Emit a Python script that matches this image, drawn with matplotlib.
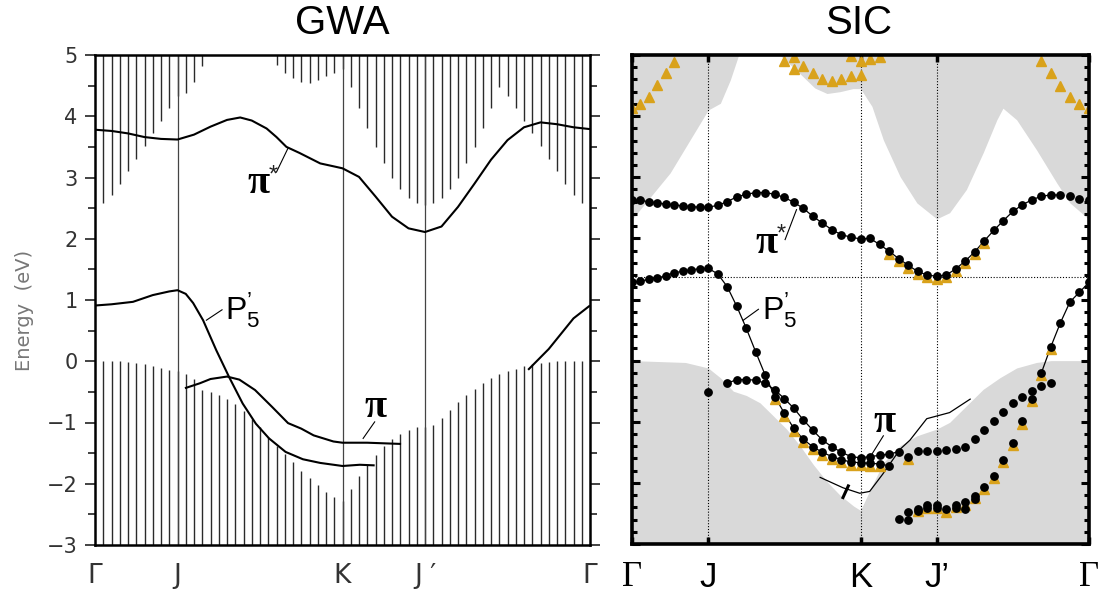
import matplotlib
matplotlib.use("Agg")
import matplotlib.pyplot as plt
import numpy as np
from matplotlib.ticker import MultipleLocator

W, H, DPI = 1102, 603, 100

plt.rcParams["mathtext.fontset"] = "custom"
plt.rcParams["mathtext.rm"] = "Liberation Sans"
plt.rcParams["mathtext.it"] = "Liberation Sans:italic"

# k path: Gamma(0) - J(10) - K(30) - J'(40) - Gamma(60)
SYM_K = [0, 10, 30, 40, 60]
GWA_LABELS = ["Γ", "J", "K", "J ′", "Γ"]
SIC_LABELS = ["Γ", "J", "K", "J’", "Γ"]

# ---------------- GWA panel ----------------
gwa_k = np.arange(61)
# lower edge of the conduction continuum (hatched from the top)
gwa_cond = [2.50, 2.59, 2.71, 2.89, 3.10, 3.31, 3.51, 3.72, 3.92, 4.13,
            4.33, 4.38, 4.56, 4.82, 5.00, 5.00, 5.00, 5.00, 5.00, 5.00,
            5.00, 5.00, 4.84, 4.71, 4.62, 4.56, 4.55, 4.59, 4.65, 4.71,
            4.77, 4.47, 4.14, 3.81, 3.50, 3.23, 3.00, 2.81, 2.66, 2.58,
            2.55, 2.58, 2.66, 2.81, 3.00, 3.23, 3.50, 3.81, 4.14, 4.47,
            4.33, 4.13, 3.92, 3.72, 3.51, 3.31, 3.10, 2.89, 2.71, 2.59,
            2.50]
# upper edge of the valence continuum (hatched from the bottom)
gwa_val = [0.00, 0.00, 0.00, 0.00, -0.02, -0.03, -0.05, -0.08, -0.11, -0.14,
           -0.16, -0.20, -0.29, -0.47, -0.51, -0.55, -0.61, -0.70, -0.81, -0.95,
           -1.08, -1.23, -1.38, -1.52, -1.65, -1.79, -1.91, -2.02, -2.13, -2.21,
           -2.28, -2.09, -1.87, -1.70, -1.53, -1.38, -1.27, -1.19, -1.13, -1.08,
           -1.07, -1.04, -0.93, -0.79, -0.67, -0.55, -0.46, -0.35, -0.28, -0.20,
           -0.16, -0.12, -0.08, -0.04, -0.03, -0.01, 0.00, 0.00, 0.00, 0.00,
           0.00]

gwa_pistar_k = [0, 2, 4, 6, 8, 10, 12, 14, 16, 17.6, 19, 20.8, 22, 23.2, 24.8,
                27.3, 29, 30, 32, 34, 36, 38, 40, 42, 44, 46, 48, 50, 52, 54,
                56, 58, 60]
gwa_pistar_e = [3.78, 3.76, 3.72, 3.66, 3.63, 3.62, 3.70, 3.83, 3.94, 3.98, 3.93,
                3.80, 3.66, 3.50, 3.40, 3.23, 3.18, 3.15, 3.01, 2.69, 2.36, 2.17,
                2.11, 2.20, 2.52, 2.90, 3.29, 3.61, 3.82, 3.90, 3.87, 3.82, 3.79]

gwa_p5_k = [0, 2, 4.6, 7, 9, 10, 11, 11.9, 13.1, 14.7, 16.3, 17.9, 19.5, 21.1,
            23.1, 25.2, 27.3, 30, 32.1, 33.9]
gwa_p5_e = [0.91, 0.93, 0.97, 1.08, 1.14, 1.16, 1.10, 0.95, 0.67, 0.18, -0.27,
            -0.69, -1.02, -1.26, -1.48, -1.60, -1.66, -1.71, -1.69, -1.70]
gwa_p5b_k = [52.5, 55, 58, 60]
gwa_p5b_e = [-0.14, 0.20, 0.70, 0.91]

gwa_pi_k = [10.9, 12.7, 14, 16, 17.5, 19.4, 21.5, 23.4, 25, 26.5, 28.9, 30, 33, 37.1]
gwa_pi_e = [-0.44, -0.36, -0.29, -0.25, -0.30, -0.47, -0.75, -1.01, -1.10, -1.21,
            -1.31, -1.33, -1.33, -1.35]

# ---------------- SIC panel ----------------
k_gj = np.linspace(0, 10, 10)
k_jk = np.linspace(10, 30, 17)
k_kg = np.linspace(30, 60, 25)

sic_pistar = ([2.63, 2.62, 2.60, 2.58, 2.56, 2.55, 2.53, 2.52, 2.51, 2.51]
              + [2.54, 2.60, 2.68, 2.72, 2.75, 2.75, 2.72, 2.67, 2.59, 2.49,
                 2.36, 2.25, 2.14, 2.06, 2.02, 1.99]
              + [2.00, 1.90, 1.79, 1.67, 1.56, 1.46, 1.40, 1.38, 1.40, 1.50,
                 1.63, 1.78, 1.96, 2.13, 2.29, 2.44, 2.55, 2.63, 2.69, 2.71,
                 2.71, 2.69, 2.65, 2.63])
sic_pistar_k = np.concatenate([k_gj, k_jk[1:], k_kg[1:]])

sic_p5 = ([1.28, 1.30, 1.33, 1.35, 1.39, 1.44, 1.46, 1.49, 1.50, 1.51]
          + [1.42, 1.21, 0.89, 0.53, 0.14, -0.24, -0.59, -0.86, -1.11, -1.29,
             -1.41, -1.50, -1.57, -1.62, -1.66, -1.67]
          + [-1.68, -1.69, -1.72])
sic_p5_k = np.concatenate([k_gj, k_jk[1:], k_kg[1:4]])

sic_pi_j = -0.51
sic_pi = ([-0.37, -0.31, -0.31, -0.32, -0.37, -0.48, -0.62, -0.78, -0.97, -1.14,
           -1.30, -1.41, -1.50, -1.57, -1.59]
          + [-1.57, -1.55, -1.53, -1.49, -1.57, -1.48, -1.48, -1.48, -1.47, -1.45,
             -1.41, -1.29, -1.14, -0.99, -0.84, -0.70, -0.59, -0.49, -0.42, -0.37])
sic_pi_k = np.concatenate([k_jk[2:], k_kg[1:21]])

sic_deep_a = [-2.59, -2.47, -2.42, -2.37, -2.37, -2.43, -2.36, -2.32, -2.21, -2.06,
              -1.88, -1.62, -1.34, -0.99, -0.62, -0.20, 0.23, 0.62, 0.96, 1.12, 1.28]
sic_deep_a_k = k_kg[4:25]
sic_deep_b = [-2.60, -2.46, -2.41, -2.41, np.nan, -2.41, -2.43, -2.27]
sic_deep_b_k = k_kg[5:13]

tri_top_left = [4.13, 4.20, 4.32, 4.51, 4.70, 4.89]
tri_top_left_k = k_gj[0:6]
tri_top_mid = [4.91, 4.77, 4.82, 4.70, 4.61, 4.58, 4.60, 4.66, 4.67]
tri_top_mid_k = k_jk[8:17]
tri_top_hi = [4.96, 4.99, 4.91, 4.93, 4.97]
tri_top_hi_k = [k_jk[9], k_jk[15], k_jk[16], k_kg[1], k_kg[2]]
tri_top_right = [4.91, 4.71, 4.50, 4.32, 4.20, 4.13]
tri_top_right_k = k_kg[19:25]

# continuum edges (SIC), grey shading
sic_cb_k = [0, 5, 10, 11.6, 12.9, 14, 14.5, 19, 19.4, 22, 24, 25.6, 27.3, 29, 30,
            31.5, 33, 35.2, 37.4, 40, 41.7, 43.9, 46.1, 47.9, 48.7, 50.5, 53.1,
            55.8, 57.5, 60]
sic_cb_e = [2.31, 3.07, 4.10, 4.21, 4.59, 5.0, 5.4, 5.4, 5.0, 4.70, 4.46, 4.37,
            4.40, 4.45, 4.45, 4.16, 3.61, 3.01, 2.58, 2.32, 2.42, 2.80, 3.40, 3.94,
            4.13, 3.94, 3.45, 2.90, 2.58, 2.31]
sic_vb_k = [0, 7, 10, 11.6, 13.3, 15, 16.8, 18.6, 20.3, 22.1, 23.8, 25.6, 27.3,
            29.1, 30, 31.5, 33, 35.2, 37.4, 40, 41.7, 43.9, 46.1, 48.3, 50.5, 53.1,
            55, 60]
sic_vb_e = [0.0, -0.03, -0.12, -0.28, -0.50, -0.57, -0.69, -0.91, -1.12, -1.40,
            -1.70, -1.98, -2.20, -2.38, -2.45, -2.05, -1.67, -1.39, -1.23, -1.12,
            -1.01, -0.74, -0.47, -0.28, -0.12, -0.03, 0.0, 0.0]
sic_thin_k = [24.7, 27.7, 29.9, 31.2, 32.9, 35.2, 36.5, 38.7, 41.7, 44.4]
sic_thin_e = [-1.91, -2.08, -2.17, -2.14, -1.86, -1.45, -1.30, -0.95, -0.85, -0.63]
E_FERMI_LINE = 1.37

GOLD = "#D9A21B"
GREY = "#d9d9d9"
SERIF = "Liberation Serif"
SANS = "Liberation Sans"


def label_pi(ax, x, y, star=False, size=29):
    # π glyph centred at (x, y); the asterisk sits up and to the right
    ax.text(x, y, "π", family=SERIF, fontsize=size, weight="bold",
            ha="center", va="center")
    if star:
        ax.annotate("*", xy=(x, y), xytext=(11, 6), textcoords="offset points",
                    family=SANS, fontsize=17, color="#222", ha="center", va="center")


def label_p5(ax, x, y, size=23):
    ax.text(x, y, r"$\mathrm{P}_{5}^{’}$", fontsize=size, ha="left", va="center")


def draw_gwa(ax):
    kk = gwa_k[1:-1]
    ax.vlines(kk, np.array(gwa_cond)[1:-1], 5, color="#2a2a2a", lw=1.0)
    ax.vlines(kk, -3, np.array(gwa_val)[1:-1], color="#2a2a2a", lw=1.0)
    for k in SYM_K[1:-1]:
        ax.axvline(k, color="#444", lw=0.9)
    for ks, es in [(gwa_pistar_k, gwa_pistar_e), (gwa_p5_k, gwa_p5_e),
                   (gwa_p5b_k, gwa_p5b_e), (gwa_pi_k, gwa_pi_e)]:
        ax.plot(ks, es, color="k", lw=1.5, solid_capstyle="butt")

    # band labels with leader lines
    label_pi(ax, 19.8, 2.90, star=True)
    ax.plot([22.0, 23.4], [3.09, 3.48], color="k", lw=0.8)
    label_p5(ax, 15.8, 0.83)
    ax.plot([13.5, 15.4], [0.67, 0.84], color="k", lw=0.8)
    label_pi(ax, 34.0, -0.76)
    ax.plot([32.5, 33.9], [-1.26, -0.99], color="k", lw=0.8)

    ax.set_xlim(0, 60)
    ax.set_ylim(-3, 5)
    ax.yaxis.set_major_locator(MultipleLocator(1))
    ax.yaxis.set_minor_locator(MultipleLocator(0.5))
    ax.tick_params(axis="y", which="both", direction="out", left=True, right=True,
                   width=1.2, colors="#222")
    ax.tick_params(axis="y", which="major", length=7.5, pad=5, labelsize=15,
                   labelcolor="#333")
    ax.tick_params(axis="y", which="minor", length=5)
    ax.set_xticks(SYM_K)
    ax.set_xticklabels(GWA_LABELS)
    ax.tick_params(axis="x", length=0, pad=13, labelsize=19, labelcolor="#333")
    for s in ax.spines.values():
        s.set_linewidth(1.8)


def draw_sic(ax):
    ax.fill_between(sic_cb_k, sic_cb_e, 6, color=GREY, lw=0, zorder=0)
    ax.fill_between(sic_vb_k, -4, sic_vb_e, color=GREY, lw=0, zorder=0)
    dot = (0, (1, 1.6))
    for k in SYM_K[1:-1]:
        ax.axvline(k, color="k", lw=0.8, ls=dot, zorder=1)
    ax.axhline(E_FERMI_LINE, color="k", lw=0.8, ls=dot, zorder=1)

    # thin connecting lines
    ax.plot(sic_pistar_k[:-3], sic_pistar[:-3], color="k", lw=0.9, zorder=2)
    ax.plot(sic_p5_k, sic_p5, color="k", lw=0.9, zorder=2)
    ax.plot(sic_pi_k[:19], sic_pi[:19], color="k", lw=0.9, zorder=2)
    ax.plot(sic_deep_a_k[15:], sic_deep_a[15:], color="k", lw=0.9, zorder=2)
    ax.plot(sic_thin_k, sic_thin_e, color="k", lw=0.9, zorder=2)
    ax.plot([27.7, 28.4], [-2.24, -2.05], color="k", lw=2.2, zorder=2)

    # orange triangles (partly hidden under the dots)
    tri = dict(marker="^", ms=7, color=GOLD, ls="none", zorder=3)
    ax.plot(tri_top_left_k, tri_top_left, **tri)
    ax.plot(tri_top_mid_k, tri_top_mid, **tri)
    ax.plot(tri_top_hi_k, tri_top_hi, **tri)
    ax.plot(tri_top_right_k, tri_top_right, **tri)
    off = 0.04
    ax.plot(sic_pistar_k[28:39], np.array(sic_pistar[28:39]) - off, **tri)
    ax.plot(sic_p5_k[16:28], np.array(sic_p5[16:28]) - off, **tri)
    ax.plot(sic_pi_k[19:20], np.array(sic_pi[19:20]) - off, **tri)
    ax.plot(sic_deep_a_k[2:17], np.array(sic_deep_a[2:17]) - off, **tri)

    dots = dict(marker="o", ms=5.3, color="k", ls="none", zorder=4)
    ax.plot(sic_pistar_k, sic_pistar, **dots)
    ax.plot(sic_p5_k, sic_p5, **dots)
    ax.plot(sic_pi_k, sic_pi, **dots)
    ax.plot([SYM_K[1]], [sic_pi_j], **dots)
    ax.plot(sic_deep_a_k, sic_deep_a, **dots)
    ax.plot(sic_deep_b_k, sic_deep_b, **dots)

    label_pi(ax, 17.6, 1.92, star=True)
    ax.plot([20.1, 21.6], [1.98, 2.47], color="k", lw=0.8)
    label_p5(ax, 17.1, 0.83)
    ax.plot([14.6, 16.6], [0.66, 0.84], color="k", lw=0.8)
    label_pi(ax, 33.1, -1.02)
    ax.plot([31.5, 33.0], [-1.53, -1.23], color="k", lw=0.8)

    ax.set_xlim(0, 60)
    ax.set_ylim(-3, 5)
    ax.yaxis.set_major_locator(MultipleLocator(1))
    ax.yaxis.set_minor_locator(MultipleLocator(0.2))
    ax.tick_params(axis="y", which="both", direction="in", left=True, right=True,
                   labelleft=False, width=2.2)
    ax.tick_params(axis="y", which="major", length=6)
    ax.tick_params(axis="y", which="minor", length=3.5)
    ax.set_xticks(SYM_K)
    ax.set_xticklabels(SIC_LABELS)
    ax.tick_params(axis="x", direction="in", top=True, length=5, width=2.5,
                   pad=12, labelsize=25)
    for lab in ax.get_xticklabels():
        lab.set_family(SERIF if lab.get_text() == "Γ" else SANS)
    for s in ax.spines.values():
        s.set_linewidth(2.6)
        s.set_zorder(5)


def main():
    fig = plt.figure(figsize=(W / DPI, H / DPI), dpi=DPI)
    ax1 = fig.add_axes([95 / W, 58 / H, 495 / W, 490 / H])
    ax2 = fig.add_axes([632 / W, 59 / H, 457 / W, 489 / H])
    draw_gwa(ax1)
    draw_sic(ax2)
    fig.text(342.5 / W, 1 - 23 / H, "GWA", family=SANS, fontsize=29,
             ha="center", va="center")
    fig.text(859 / W, 1 - 23 / H, "SIC", family=SANS, fontsize=29,
             ha="center", va="center")
    fig.text(24 / W, 1 - 310 / H, "Energy  (eV)", family="DejaVu Sans", fontsize=14,
             color="#777", rotation=90, ha="center", va="center")
    fig.savefig("out.png", dpi=DPI)
    plt.close(fig)


if __name__ == "__main__":
    main()
